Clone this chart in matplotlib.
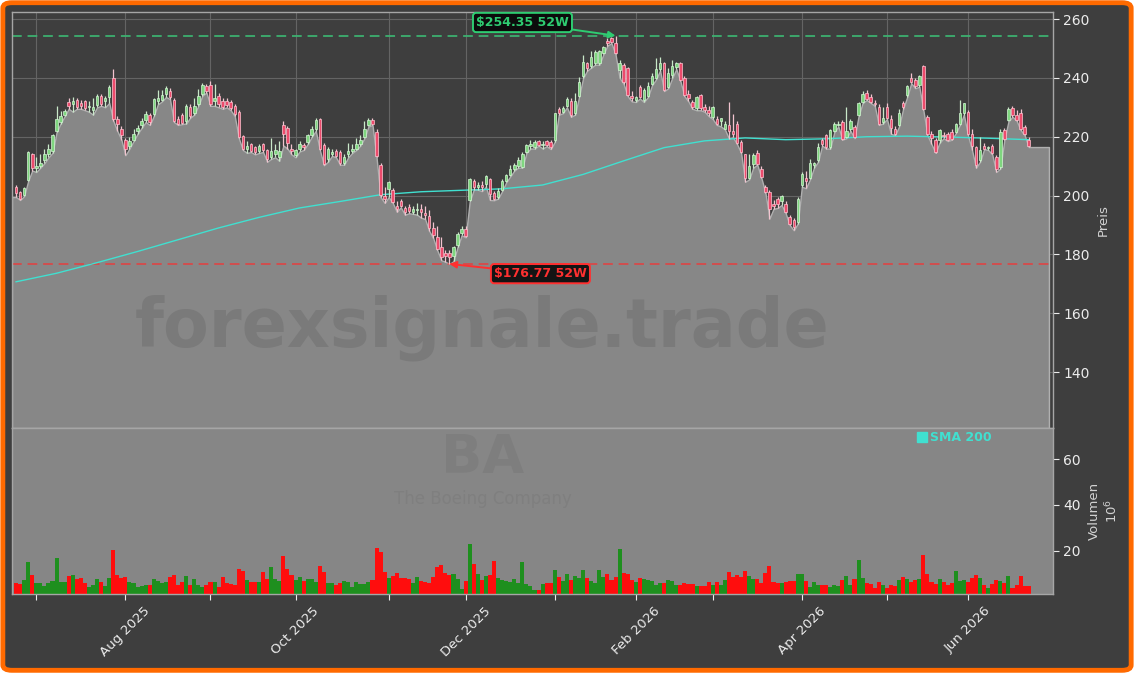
import numpy as np
import pandas as pd
import matplotlib
matplotlib.use("Agg")
import matplotlib.pyplot as plt
from matplotlib.patches import FancyBboxPatch
from matplotlib.lines import Line2D

# ---------------- data ----------------
ticker = "BA"
company = "The Boeing Company"
watermark = "forexsignale.trade"
holidays = ["2025-07-04", "2025-09-01", "2025-11-27", "2025-12-25", "2026-01-01",
            "2026-01-19", "2026-02-16", "2026-04-03", "2026-05-25", "2026-06-19"]
dates = pd.bdate_range("2025-06-24", "2026-06-23", freq="C", holidays=holidays)

open_ = [
    203.0, 201.1, 200.1, 205.2, 214.0, 209.5, 210.0, 212.0, 214.0, 215.0,
    222.0, 225.0, 227.5, 231.9, 231.0, 232.4, 231.5, 232.0, 230.0, 229.0,
    230.8, 233.9, 232.3, 233.4, 239.8, 226.0, 222.5, 219.0, 217.0, 219.0,
    222.0, 224.0, 225.8, 227.5, 227.7, 232.0, 232.6, 234.6, 235.7, 232.4,
    226.2, 227.4, 225.2, 230.1, 228.0, 231.0, 234.5, 237.3, 237.5, 232.0,
    234.0, 232.1, 232.3, 231.7, 230.4, 228.5, 220.2, 216.0, 217.5, 216.4,
    215.1, 217.6, 215.4, 213.0, 214.0, 213.0, 224.0, 222.9, 216.0, 213.7,
    215.9, 217.2, 218.3, 220.5, 222.8, 226.0, 217.1, 212.3, 214.3, 215.2,
    214.9, 211.2, 214.0, 215.0, 216.0, 217.5, 220.0, 224.0, 225.6, 221.7,
    210.3, 200.0, 202.1, 201.8, 196.5, 198.1, 195.8, 196.0, 194.5, 195.0,
    195.5, 194.0, 193.0, 189.0, 186.0, 182.5, 180.6, 180.5, 179.4, 183.1,
    187.4, 188.8, 198.4, 204.9, 203.0, 203.5, 203.8, 205.5, 201.0, 199.5,
    202.0, 205.0, 207.0, 209.0, 210.0, 209.8, 214.9, 217.0, 216.6, 218.5,
    217.3, 218.5, 218.3, 218.8, 229.3, 228.5, 230.4, 232.2, 228.0, 234.0,
    240.5, 244.9, 244.0, 244.9, 245.0, 248.3, 252.6, 253.4, 251.9, 242.7,
    244.4, 243.2, 234.0, 232.5, 236.8, 232.5, 234.0, 238.0, 240.0, 243.0,
    244.9, 237.0, 241.0, 243.8, 244.9, 239.8, 234.5, 231.9, 229.6, 234.1,
    230.2, 229.0, 226.6, 226.2, 225.2, 222.8, 224.0, 222.0, 224.5, 218.3,
    214.0, 206.0, 210.9, 214.5, 209.2, 203.0, 201.3, 197.0, 198.9, 198.2,
    197.3, 192.8, 191.6, 191.1, 203.5, 206.0, 206.0, 210.3, 212.0, 218.8,
    220.5, 216.6, 221.9, 224.0, 225.0, 220.0, 222.5, 223.4, 227.3, 231.9,
    234.9, 233.6, 231.5, 230.2, 225.0, 230.0, 226.0, 222.7, 224.0, 231.3,
    234.1, 239.8, 239.3, 237.6, 244.0, 226.8, 221.0, 218.8, 218.8, 220.5,
    220.8, 221.7, 221.7, 224.5, 227.9, 228.5, 221.0, 216.6, 212.0, 217.0,
    216.2, 216.8, 213.2, 209.8, 222.2, 225.6, 229.6, 227.5, 227.9, 223.4,
    218.8,
]
high = [
    203.5, 201.5, 203.0, 215.0, 214.5, 213.0, 214.0, 216.0, 217.5, 221.0,
    230.5, 228.7, 229.5, 233.0, 233.5, 233.0, 232.5, 232.5, 232.0, 233.0,
    234.5, 234.5, 234.0, 237.5, 242.9, 227.0, 223.5, 219.5, 220.0, 222.5,
    224.0, 226.5, 228.6, 228.0, 233.2, 236.0, 236.0, 237.3, 236.5, 233.0,
    227.0, 228.0, 231.2, 231.0, 233.3, 236.2, 238.2, 238.0, 239.0, 237.9,
    235.0, 233.0, 233.0, 232.5, 231.0, 229.0, 220.5, 218.5, 218.0, 217.0,
    217.5, 218.0, 216.0, 219.5, 217.5, 218.5, 225.5, 223.5, 217.5, 216.0,
    218.5, 218.0, 221.0, 223.5, 226.3, 226.5, 218.0, 216.5, 216.0, 216.0,
    215.5, 214.0, 218.0, 217.5, 219.5, 220.5, 225.5, 226.5, 226.5, 222.5,
    211.0, 203.0, 205.0, 202.5, 198.0, 199.0, 196.5, 197.0, 196.5, 197.5,
    197.0, 196.5, 195.0, 191.0, 189.5, 185.9, 181.5, 181.5, 183.0, 187.5,
    189.5, 189.5, 206.0, 205.5, 204.5, 205.0, 207.0, 206.0, 201.5, 202.5,
    205.5, 207.5, 210.5, 211.0, 213.0, 214.8, 217.5, 219.0, 219.0, 219.0,
    218.5, 219.0, 218.8, 228.2, 230.0, 230.5, 233.5, 233.0, 235.0, 240.4,
    247.8, 245.5, 249.0, 249.5, 249.5, 251.0, 253.5, 254.0, 254.35, 246.0,
    245.0, 243.8, 235.5, 234.0, 237.5, 236.5, 238.5, 241.5, 246.6, 247.0,
    245.5, 243.5, 246.0, 245.5, 245.5, 240.5, 236.0, 232.5, 234.0, 234.5,
    231.0, 230.5, 230.5, 227.0, 226.5, 225.5, 231.9, 227.8, 225.5, 219.0,
    214.3, 214.3, 214.5, 215.5, 210.0, 203.5, 201.8, 198.5, 199.5, 200.3,
    198.0, 193.5, 192.5, 199.5, 208.0, 208.5, 212.5, 211.5, 218.0, 219.5,
    221.0, 222.8, 225.0, 225.5, 225.8, 230.2, 226.0, 224.0, 231.8, 235.5,
    235.8, 234.5, 232.5, 231.0, 230.0, 231.5, 227.5, 223.5, 229.3, 232.0,
    237.5, 241.5, 240.0, 241.0, 244.4, 227.5, 222.0, 219.5, 222.5, 221.5,
    221.5, 222.5, 224.8, 232.5, 231.5, 229.0, 222.5, 217.0, 220.0, 217.8,
    216.8, 217.5, 213.8, 222.5, 223.0, 230.0, 230.5, 229.0, 229.5, 224.0,
    220.0,
]
low = [
    199.5, 198.5, 199.8, 205.0, 208.5, 208.0, 209.5, 211.0, 213.0, 214.5,
    221.5, 224.5, 227.0, 229.5, 228.5, 229.5, 229.5, 229.0, 228.5, 227.5,
    230.0, 230.5, 230.0, 231.5, 225.5, 222.0, 219.0, 213.7, 216.0, 218.5,
    221.0, 223.0, 225.0, 224.0, 227.0, 231.0, 232.0, 233.5, 232.8, 225.0,
    224.0, 224.3, 224.5, 226.5, 227.5, 230.5, 234.0, 235.0, 230.5, 230.5,
    230.0, 229.5, 230.0, 229.0, 227.0, 219.5, 215.5, 214.5, 214.8, 214.0,
    214.5, 214.8, 211.5, 212.5, 213.0, 211.8, 217.0, 216.0, 214.0, 213.0,
    215.0, 215.5, 217.5, 220.0, 222.0, 215.5, 210.3, 211.5, 213.5, 213.0,
    210.5, 210.5, 213.0, 214.5, 215.5, 217.0, 219.5, 223.5, 224.0, 213.0,
    199.5, 197.5, 199.5, 197.5, 194.5, 196.0, 193.5, 194.0, 193.8, 193.5,
    192.5, 192.0, 188.0, 185.5, 181.4, 178.0, 177.5, 176.77, 177.7, 182.5,
    186.5, 185.8, 198.0, 202.0, 202.0, 201.5, 203.0, 198.5, 198.4, 199.0,
    201.5, 204.5, 206.5, 208.5, 209.5, 209.5, 214.5, 216.0, 216.0, 217.0,
    216.0, 216.8, 215.8, 218.3, 227.5, 228.0, 230.0, 226.8, 227.5, 233.6,
    240.0, 242.5, 243.5, 244.5, 244.5, 248.0, 251.0, 251.8, 248.0, 240.0,
    238.0, 233.8, 232.0, 231.8, 233.0, 231.8, 233.5, 237.5, 239.5, 242.5,
    235.5, 236.5, 240.0, 243.0, 239.0, 233.8, 232.0, 229.5, 229.0, 229.0,
    228.5, 227.0, 226.0, 224.0, 223.5, 222.5, 219.4, 219.8, 217.5, 214.5,
    204.7, 205.5, 209.5, 210.5, 206.0, 201.0, 192.2, 195.5, 195.8, 196.8,
    194.0, 190.0, 188.2, 190.5, 203.0, 202.5, 205.5, 209.5, 211.5, 217.0,
    216.0, 216.0, 221.5, 223.5, 219.0, 219.5, 222.0, 219.5, 227.0, 231.5,
    232.5, 231.5, 230.5, 224.0, 224.5, 226.0, 221.0, 220.5, 223.5, 229.5,
    233.5, 238.2, 236.5, 237.0, 229.0, 220.5, 217.5, 214.5, 218.0, 219.5,
    218.5, 219.0, 221.2, 224.0, 227.5, 220.5, 215.5, 209.5, 211.5, 215.8,
    215.5, 214.0, 208.0, 209.2, 219.0, 225.2, 226.8, 225.5, 222.3, 220.5,
    216.5,
]
close = [
    201.0, 199.0, 202.6, 214.7, 209.5, 210.0, 211.0, 214.0, 216.0, 220.5,
    226.0, 227.0, 228.8, 230.6, 232.0, 230.0, 230.5, 229.8, 230.5, 230.0,
    233.8, 231.2, 233.2, 236.8, 226.2, 224.5, 220.5, 216.0, 218.5, 221.0,
    223.0, 225.5, 227.6, 224.9, 232.8, 233.0, 234.2, 236.4, 233.4, 225.4,
    224.5, 224.8, 230.5, 226.9, 230.5, 234.0, 237.6, 235.7, 231.0, 233.0,
    231.0, 230.2, 230.9, 229.8, 227.6, 220.0, 216.0, 217.0, 215.3, 214.9,
    216.7, 215.5, 212.3, 215.0, 215.5, 215.0, 221.0, 217.8, 215.0, 215.4,
    217.7, 216.6, 220.5, 222.8, 225.6, 216.0, 210.9, 215.7, 214.8, 213.5,
    211.2, 213.2, 215.0, 216.0, 217.5, 219.0, 222.5, 225.7, 224.5, 213.4,
    200.1, 199.0, 204.7, 197.9, 195.5, 196.5, 194.4, 194.6, 195.6, 195.5,
    194.5, 193.5, 189.0, 186.5, 182.0, 179.0, 179.4, 179.2, 182.4, 186.9,
    188.8, 186.3, 205.6, 202.8, 203.5, 203.0, 206.6, 200.4, 198.8, 201.5,
    205.0, 207.0, 209.0, 210.5, 212.0, 214.3, 217.1, 217.5, 218.3, 217.3,
    217.5, 217.2, 216.5, 227.9, 228.1, 229.7, 232.9, 227.3, 232.0, 238.5,
    245.5, 243.2, 247.0, 248.9, 249.0, 250.6, 251.7, 252.3, 248.5, 244.9,
    238.7, 234.1, 233.0, 233.6, 233.4, 236.0, 237.3, 240.5, 243.0, 245.0,
    235.9, 241.5, 244.0, 244.9, 239.3, 234.1, 233.0, 230.2, 233.6, 229.6,
    229.0, 228.0, 230.0, 224.5, 226.5, 224.5, 222.0, 221.0, 218.0, 214.9,
    206.0, 210.0, 213.7, 210.9, 206.4, 201.3, 195.6, 196.6, 197.3, 199.8,
    194.5, 190.5, 189.4, 199.0, 207.5, 205.0, 211.0, 211.1, 216.5, 217.7,
    216.6, 222.2, 224.3, 224.5, 219.4, 222.0, 225.3, 220.0, 231.3, 234.5,
    232.8, 231.9, 231.0, 224.5, 226.5, 226.5, 223.0, 221.0, 228.0, 230.2,
    237.2, 238.7, 237.2, 240.6, 229.3, 221.1, 219.5, 214.9, 222.2, 220.3,
    219.0, 219.4, 224.5, 228.0, 231.3, 221.1, 217.0, 210.3, 215.5, 216.0,
    216.5, 214.5, 209.2, 221.7, 219.4, 229.3, 227.3, 225.8, 222.8, 221.1,
    216.8,
]
volume_mio = [
    5.7, 5.3, 7.2, 14.9, 9.3, 5.7, 5.7, 4.5, 5.7, 6.7,
    16.8, 6.1, 6.4, 8.9, 9.3, 7.6, 7.9, 5.7, 4.2, 5.0,
    7.4, 6.1, 4.5, 8.0, 20.3, 9.3, 8.0, 8.3, 6.1, 5.7,
    3.9, 4.5, 5.0, 5.0, 7.6, 6.9, 6.0, 6.4, 8.6, 9.3,
    5.0, 6.1, 8.9, 5.0, 7.6, 5.0, 4.2, 5.0, 6.1, 6.1,
    4.2, 8.5, 5.7, 5.4, 5.0, 12.0, 11.1, 7.2, 6.1, 6.1,
    6.1, 10.7, 7.6, 12.8, 7.4, 6.7, 17.7, 12.0, 9.3, 7.2,
    8.5, 6.7, 7.6, 7.6, 6.1, 13.3, 10.7, 5.7, 5.7, 5.0,
    5.8, 6.7, 6.1, 3.9, 6.1, 5.4, 5.4, 6.1, 7.2, 21.2,
    19.4, 10.7, 7.9, 8.9, 10.2, 8.0, 8.0, 7.6, 5.7, 8.5,
    6.7, 6.1, 5.7, 8.5, 12.8, 13.9, 10.2, 9.3, 9.8, 7.6,
    3.0, 6.7, 22.9, 14.2, 9.8, 7.2, 8.9, 9.3, 15.5, 8.0,
    7.2, 6.7, 6.3, 7.6, 5.7, 15.0, 5.4, 4.5, 2.8, 2.8,
    5.4, 5.8, 5.8, 11.5, 8.5, 6.7, 9.8, 7.2, 8.9, 8.0,
    11.5, 8.0, 6.7, 5.8, 11.5, 8.6, 9.8, 7.2, 8.6, 20.7,
    10.4, 9.6, 7.2, 6.4, 7.9, 7.4, 7.2, 6.7, 5.0, 5.7,
    6.0, 7.2, 6.7, 5.0, 5.0, 6.0, 5.4, 5.4, 4.5, 4.5,
    4.5, 6.3, 5.0, 6.3, 5.0, 7.2, 10.7, 8.6, 9.3, 8.6,
    11.1, 8.9, 7.7, 7.6, 6.0, 10.4, 13.3, 6.3, 5.7, 5.8,
    6.3, 6.6, 6.9, 9.8, 9.8, 6.7, 4.2, 6.3, 4.8, 5.0,
    4.8, 4.2, 5.0, 4.5, 7.2, 8.9, 4.8, 7.6, 15.9, 8.0,
    6.0, 5.3, 3.8, 6.3, 5.0, 3.8, 5.0, 4.5, 7.2, 8.3,
    7.6, 6.4, 7.2, 7.6, 18.1, 9.8, 6.4, 5.4, 7.6, 6.3,
    4.8, 5.7, 11.1, 6.6, 7.2, 6.3, 7.9, 9.5, 8.0, 5.0,
    3.8, 5.4, 7.2, 6.7, 6.0, 8.9, 3.8, 5.1, 8.9, 4.7,
    4.7,
]
sma_bar = [0, 10, 20, 30, 40, 50, 60, 70, 80, 90, 100, 110, 120, 130,
           140, 150, 160, 170, 180, 190, 200, 210, 220, 230, 240, 250]
sma200 = [170.7, 173.6, 177.2, 181.0, 185.0, 189.0, 192.6, 195.8, 198.0, 200.3,
          201.3, 201.8, 202.3, 203.6, 207.2, 211.8, 216.3, 218.6, 219.6, 219.0,
          219.3, 220.0, 220.2, 219.9, 219.5, 219.0]

# ---------------- styling ----------------
BG = "#3e3e3e"
FILL = "#878787"
UP_BODY, UP_EDGE, UP_WICK = "#7fd67f", "#d4f5d4", "#c9e8c9"
DN_BODY, DN_EDGE, DN_WICK = "#ec4b6c", "#ffc4d0", "#f2c4cf"
SMA_C = "#40e0d0"
TXT = "#ececec"

o = np.array(open_); h = np.array(high); l = np.array(low); c = np.array(close)
v = np.array(volume_mio)
n = len(c)
x = np.arange(n)
up = c >= o

fig = plt.figure(figsize=(11.34, 6.73), dpi=100, facecolor="white")
frame = FancyBboxPatch((0.0025, 0.004), 0.995, 0.992,
                       boxstyle="round,pad=0,rounding_size=0.008",
                       transform=fig.transFigure, facecolor=BG,
                       edgecolor="#ff6a00", linewidth=3.5, zorder=-10)
fig.patches.append(frame)

ax = fig.add_axes([0.01058, 0.36404, 0.91799, 0.61813])
axv = fig.add_axes([0.01058, 0.11738, 0.91799, 0.24666], sharex=ax)
ax.set_facecolor(BG)
axv.set_facecolor("#868686")

ymin, ymax = 121.0, 262.4
xr = (-1, n + 5)

# area under the lows, held out to both edges of the panel
xf = np.concatenate([[xr[0]], x, [n + 4]])
lf = np.concatenate([[l[0]], l, [l[-1]]])
ax.fill_between(xf, lf, ymin, facecolor=FILL, edgecolor="#b0b0b0",
                linewidth=1.0, zorder=1)

# watermark
ax.text(0.4515, 0.24, watermark, transform=ax.transAxes, ha="center",
        va="center", fontsize=48, fontweight="bold", color="#7a7a7a", zorder=1.5)

# 52W lines
i_hi = int(np.argmax(h)); i_lo = int(np.argmin(l))
hi52 = h[i_hi]; lo52 = l[i_lo]
ax.axhline(hi52, color="#3cb371", lw=1.4, ls=(0, (5, 3)), alpha=0.9, zorder=2)
ax.axhline(lo52, color="#d94848", lw=1.4, ls=(0, (5, 3)), alpha=0.9, zorder=2)

# SMA 200
ax.plot(sma_bar, sma200, color=SMA_C, lw=1.0, zorder=2.5)

# candles
ax.vlines(x, l, h, colors=np.where(up, UP_WICK, DN_WICK), lw=0.9, zorder=3)
body_lo = np.minimum(o, c)
body_h = np.maximum(np.abs(c - o), 0.35)
ax.bar(x, body_h, bottom=body_lo, width=0.62,
       color=np.where(up, UP_BODY, DN_BODY),
       edgecolor=np.where(up, UP_EDGE, DN_EDGE), linewidth=0.5, zorder=4)

# annotations
ax.annotate(f"${hi52:.2f} 52W", xy=(i_hi, hi52), xytext=(-67, 9.5),
            textcoords="offset points", ha="center", va="center",
            fontsize=9, fontweight="bold", color="#2ecc71", zorder=6,
            bbox=dict(boxstyle="round,pad=0.25", fc="#0c0c0c", ec="#2ecc71", lw=1.4),
            arrowprops=dict(arrowstyle="-|>", color="#2ecc71", lw=1.4,
                            shrinkA=0, shrinkB=0, mutation_scale=10))
ax.annotate(f"${lo52:.2f} 52W", xy=(i_lo, lo52), xytext=(65.5, -7),
            textcoords="offset points", ha="center", va="center",
            fontsize=9, fontweight="bold", color="#ff3030", zorder=6,
            bbox=dict(boxstyle="round,pad=0.25", fc="#141414", ec="#ff3030", lw=1.4),
            arrowprops=dict(arrowstyle="-|>", color="#ff3030", lw=1.4,
                            shrinkA=0, shrinkB=0, mutation_scale=10))

# volume
axv.bar(x, v, width=1.0, color=np.where(up, "#1e8f1e", "#ff0d0d"),
        linewidth=0, zorder=2)
axv.text(0.452, 0.82, ticker, transform=axv.transAxes, ha="center", va="center",
         fontsize=39, fontweight="bold", color="#7e7e7e", zorder=1)
axv.text(0.452, 0.57, company, transform=axv.transAxes, ha="center", va="center",
         fontsize=12, color="#7f7f7f", zorder=1)
axv.legend(handles=[Line2D([], [], marker="s", ls="none", color=SMA_C, markersize=6.5)],
           labels=["SMA 200"], loc="center left", bbox_to_anchor=(0.869, 0.94),
           frameon=False, labelcolor=SMA_C, prop={"weight": "bold", "size": 9},
           handletextpad=0.3, borderaxespad=0, borderpad=0, handlelength=0.8)

# axes ranges / ticks
ax.set_xlim(*xr)
ax.set_ylim(ymin, ymax)
axv.set_ylim(1.0, 73.6)
ax.set_yticks([140, 160, 180, 200, 220, 240, 260])
axv.set_yticks([20, 40, 60])

month_pos = [i for i in range(1, n) if dates[i].month != dates[i - 1].month]
month_lab = [dates[i].strftime("%b %Y") if dates[i].month % 2 == 0 else ""
             for i in month_pos]
axv.set_xticks(month_pos)
axv.set_xticklabels(month_lab, rotation=45, ha="center")
ax.tick_params(axis="x", labelbottom=False)

ax.grid(True, color="#646464", lw=0.8)
ax.set_axisbelow(True)

for a in (ax, axv):
    a.yaxis.tick_right()
    a.yaxis.set_label_position("right")
    a.tick_params(colors=TXT, labelsize=10, length=4, width=0.8)
    for s in a.spines.values():
        s.set_color("#a6a6a6")
        s.set_linewidth(1.0)
axv.tick_params(axis="x", labelsize=9.5)

ax.set_ylabel("Preis", color="#d2d2d2", fontsize=9.5, labelpad=5)
axv.set_ylabel("Volumen\n$10^{6}$", color="#d2d2d2", fontsize=9.5, labelpad=5)

fig.savefig("out.png", dpi=100, facecolor=fig.get_facecolor())
